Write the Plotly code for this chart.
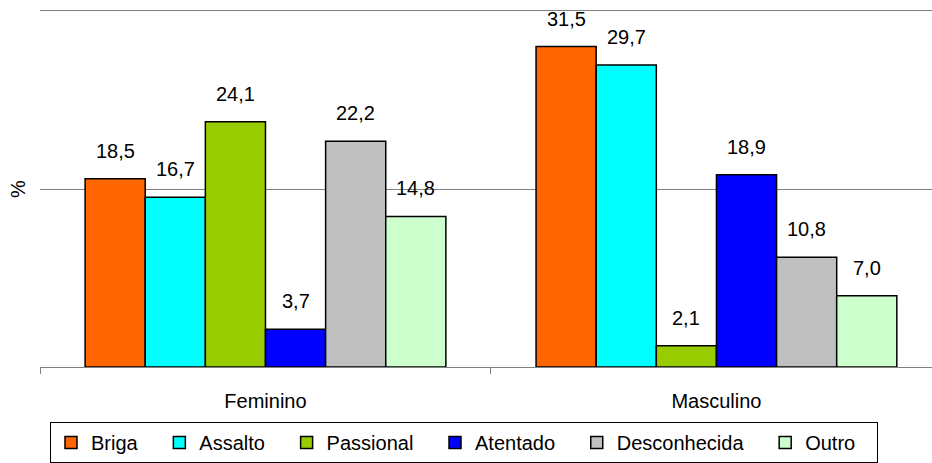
import plotly.graph_objects as go

categories = ["Feminino", "Masculino"]
series_names = ["Briga", "Assalto", "Passional", "Atentado", "Desconhecida", "Outro"]
briga = [18.5, 31.5]
assalto = [16.7, 29.7]
passional = [24.1, 2.1]
atentado = [3.7, 18.9]
desconhecida = [22.2, 10.8]
outro = [14.8, 7.0]
series_values = [briga, assalto, passional, atentado, desconhecida, outro]
colors = ["#FF6600", "#00FFFF", "#99CC00", "#0000FF", "#C0C0C0", "#CCFFCC"]

FONT = "Arial, Liberation Sans, sans-serif"
BARGAP = 0.2
PAD = "\u00a0" * 3  # extra spacing between legend entries

fig = go.Figure()
n = len(series_names)
for i, (name, vals, col) in enumerate(zip(series_names, series_values, colors)):
    fig.add_trace(go.Bar(
        name=name + PAD, x=categories, y=vals,
        marker=dict(color=col, line=dict(color="black", width=1.5)),
        hovertemplate=name + ": %{y}<extra></extra>",
    ))

w = (1 - BARGAP) / n
annotations = []
for i, vals in enumerate(series_values):
    for ci, v in enumerate(vals):
        annotations.append(dict(
            x=ci + (i - (n - 1) / 2) * w, y=v, xref="x", yref="y",
            text=f"{v:.1f}".replace(".", ","), showarrow=False,
            yanchor="bottom", yshift=15,
            font=dict(family=FONT, size=20, color="black"),
        ))

fig.update_layout(
    width=932, height=463,
    margin=dict(l=40, r=0, t=11, b=96),
    paper_bgcolor="white", plot_bgcolor="white",
    barmode="group", bargap=BARGAP, bargroupgap=0,
    font=dict(family=FONT, size=20, color="black"),
    annotations=annotations,
    showlegend=True,
    legend=dict(
        orientation="h", x=0.0112, y=-0.2697, xanchor="left", yanchor="bottom",
        bordercolor="black", borderwidth=1, bgcolor="white",
        font=dict(family=FONT, size=20, color="black"),
        itemwidth=30,
    ),
    xaxis=dict(
        type="category", range=[-0.5, 1.478],
        showline=True, linecolor="#808080", linewidth=1, mirror=True,
        ticks="outside", tickson="boundaries", ticklen=6, tickcolor="#808080",
        showgrid=False, ticklabelstandoff=16,
        tickfont=dict(family=FONT, size=20, color="black"),
    ),
    yaxis=dict(
        range=[0, 35], tick0=0, dtick=17.5,
        showgrid=True, gridcolor="#808080", gridwidth=1,
        zeroline=False, showticklabels=False, ticks="",
        title=dict(text="%", standoff=8, font=dict(family=FONT, size=20, color="black")),
    ),
)

fig.write_html(
    "out.html",
    config={"displayModeBar": False},
    post_script="document.body.style.margin='0';document.body.style.overflow='hidden';",
)
